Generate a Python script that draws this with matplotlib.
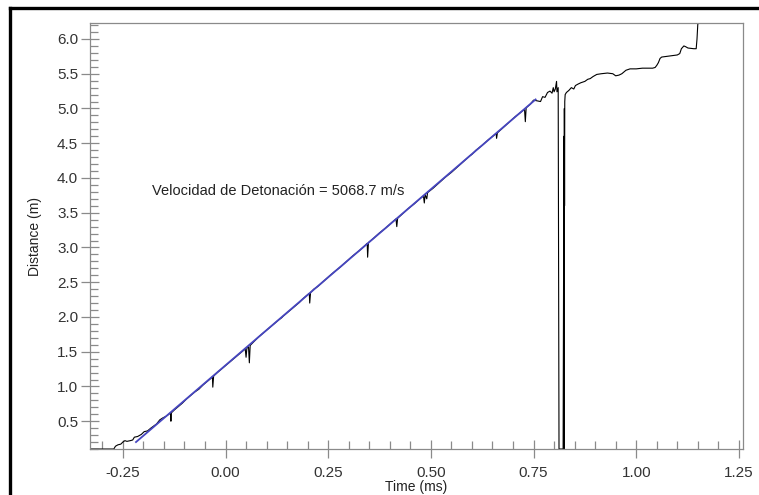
import matplotlib

matplotlib.use("Agg")
import matplotlib.pyplot as plt
from matplotlib.lines import Line2D
from matplotlib.ticker import MultipleLocator, FormatStrFormatter

plt.rcParams["font.family"] = ["Liberation Sans", "DejaVu Sans"]

# ---------------------------------------------------------------------------
# Data (time in ms, distance in m)
# ---------------------------------------------------------------------------

trace_t = [
    -0.330, -0.300, -0.272, -0.268, -0.262, -0.255, -0.250, -0.245, -0.240,
    -0.232, -0.226, -0.222, -0.214, -0.205, -0.198, -0.190, -0.182, -0.175,
    -0.168, -0.160, -0.152, -0.145, -0.138, -0.134, -0.133, -0.132, -0.125,
    -0.115, -0.105, -0.095, -0.085, -0.075, -0.065, -0.055, -0.045, -0.035,
    -0.032, -0.031, -0.029, -0.020, -0.010, 0.000, 0.010, 0.020, 0.030,
    0.040, 0.048, 0.050, 0.052, 0.056, 0.058, 0.060, 0.070, 0.080, 0.090,
    0.100, 0.110, 0.120, 0.130, 0.137, 0.140, 0.150, 0.160, 0.170, 0.180,
    0.190, 0.200, 0.204, 0.205, 0.207, 0.215, 0.225, 0.240, 0.255, 0.265,
    0.280, 0.295, 0.310, 0.325, 0.340, 0.345, 0.346, 0.348, 0.360, 0.375,
    0.390, 0.405, 0.415, 0.417, 0.419, 0.430, 0.445, 0.460, 0.475, 0.482,
    0.484, 0.486, 0.490, 0.492, 0.505, 0.520, 0.535, 0.550, 0.565, 0.580,
    0.595, 0.600, 0.610, 0.625, 0.640, 0.655, 0.659, 0.660, 0.662, 0.675,
    0.690, 0.705, 0.718, 0.728, 0.730, 0.732, 0.742, 0.750, 0.758, 0.767,
    0.772, 0.778, 0.784, 0.790, 0.795, 0.798, 0.800, 0.803, 0.806, 0.807,
    0.810, 0.812, 0.822, 0.824, 0.8245, 0.825, 0.8255, 0.826, 0.827, 0.830,
    0.836, 0.842, 0.848, 0.852, 0.858, 0.865, 0.875, 0.882, 0.888, 0.895,
    0.904, 0.915, 0.930, 0.943, 0.950, 0.958, 0.965, 0.975, 0.985, 1.000,
    1.015, 1.030, 1.040, 1.046, 1.050, 1.054, 1.058, 1.062, 1.075, 1.090,
    1.100, 1.106, 1.110, 1.116, 1.120, 1.126, 1.140, 1.146, 1.148, 1.150,
    1.160, 1.170,
]
trace_d = [
    0.10, 0.10, 0.10, 0.14, 0.16, 0.17, 0.20, 0.22, 0.21,
    0.22, 0.23, 0.27, 0.28, 0.31, 0.35, 0.36, 0.40, 0.43,
    0.46, 0.52, 0.55, 0.57, 0.60, 0.62, 0.50, 0.62, 0.66,
    0.71, 0.76, 0.82, 0.87, 0.92, 0.96, 1.02, 1.07, 1.12,
    1.14, 0.99, 1.15, 1.20, 1.25, 1.30, 1.35, 1.40, 1.45,
    1.50, 1.54, 1.42, 1.55, 1.57, 1.34, 1.59, 1.65, 1.71, 1.76,
    1.81, 1.86, 1.91, 1.96, 1.99, 2.01, 2.06, 2.11, 2.16, 2.21,
    2.27, 2.32, 2.34, 2.20, 2.35, 2.40, 2.44, 2.52, 2.60, 2.65,
    2.72, 2.80, 2.88, 2.95, 3.03, 3.06, 2.86, 3.07, 3.13, 3.21,
    3.28, 3.36, 3.41, 3.30, 3.42, 3.48, 3.56, 3.63, 3.71, 3.74,
    3.64, 3.76, 3.70, 3.79, 3.85, 3.93, 4.01, 4.08, 4.16, 4.24,
    4.32, 4.34, 4.40, 4.47, 4.55, 4.62, 4.64, 4.57, 4.65, 4.72,
    4.80, 4.88, 4.94, 4.99, 4.81, 5.01, 5.06, 5.12, 5.11, 5.10,
    5.17, 5.16, 5.23, 5.25, 5.22, 5.30, 5.24, 5.28, 5.39, 5.24,
    5.30, 0.10, 0.10, 4.60, 0.10, 5.00, 3.60, 5.10, 5.20, 5.23,
    5.26, 5.30, 5.28, 5.33, 5.35, 5.37, 5.39, 5.42, 5.43, 5.46,
    5.49, 5.50, 5.51, 5.50, 5.47, 5.48, 5.50, 5.55, 5.57, 5.57,
    5.58, 5.58, 5.58, 5.59, 5.62, 5.66, 5.72, 5.74, 5.75, 5.76,
    5.77, 5.79, 5.86, 5.90, 5.89, 5.87, 5.86, 5.86, 6.00, 6.22,
    6.23, 6.23,
]

# linear fit endpoints (blue)
fit_t = [-0.218, 0.755]
fit_d = [0.20, 5.13]

vod_label = "Velocidad de Detonación = 5068.7 m/s"

x_ticks = [-0.25, 0.00, 0.25, 0.50, 0.75, 1.00, 1.25]
y_ticks = [0.5, 1.0, 1.5, 2.0, 2.5, 3.0, 3.5, 4.0, 4.5, 5.0, 5.5, 6.0]

# ---------------------------------------------------------------------------
# Plot
# ---------------------------------------------------------------------------

W, H = 759, 495
fig = plt.figure(figsize=(W / 100, H / 100), dpi=100)
ax = fig.add_axes([90 / W, 1 - 449 / H, (743 - 90) / W, (449 - 23) / H])

ax.plot(trace_t, trace_d, color="black", linewidth=0.8, zorder=2)
ax.plot(fit_t, fit_d, color="#4646c0", linewidth=1.3, zorder=3)

ax.text(-0.18, 3.81, vod_label, fontsize=10.5, color="#222222",
        ha="left", va="center")

ax.set_xlim(-0.33, 1.26)
ax.set_ylim(0.10, 6.23)
ax.set_xticks(x_ticks)
ax.set_yticks(y_ticks)
ax.xaxis.set_major_formatter(FormatStrFormatter("%.2f"))
ax.yaxis.set_major_formatter(FormatStrFormatter("%.1f"))
ax.xaxis.set_minor_locator(MultipleLocator(0.05))
ax.yaxis.set_minor_locator(MultipleLocator(0.1))

tick_col = "#8a8a8a"
ax.tick_params(which="major", direction="inout", length=13, width=0.9,
               color=tick_col, labelsize=11, labelcolor="#333333")
ax.tick_params(axis="x", which="major", pad=6)
ax.tick_params(axis="y", which="major", pad=2)
ax.tick_params(which="minor", direction="in", length=5.5, width=0.9,
               color=tick_col)
for sp in ax.spines.values():
    sp.set_color(tick_col)
    sp.set_linewidth(0.9)

ax.set_xlabel("Time (ms)", fontsize=10, color="#222222", labelpad=0)
ax.set_ylabel("Distance (m)", fontsize=10, color="#222222", labelpad=11)

# outer frame (top and left edges only, the rest is cropped)
fig.add_artist(Line2D([10 / W, 1.0], [1 - 8 / H, 1 - 8 / H],
                      color="black", linewidth=2.4))
fig.add_artist(Line2D([10 / W, 10 / W], [0.0, 1 - 8 / H],
                      color="black", linewidth=2.4))

fig.savefig("out.png", dpi=100)
